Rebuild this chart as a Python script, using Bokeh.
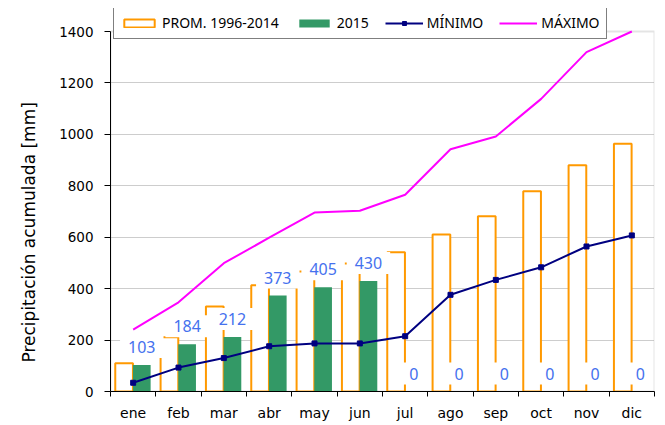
from bokeh.plotting import figure
from bokeh.models import (Range1d, FixedTicker, Legend, LegendItem, ColumnDataSource,
                          BoxAnnotation, Title)
from bokeh.core.properties import value
from bokeh.transform import dodge
from bokeh.embed import file_html
from bokeh.resources import INLINE

months = ["ene", "feb", "mar", "abr", "may", "jun", "jul", "ago", "sep", "oct", "nov", "dic"]
prom_1996_2014 = [110, 211, 331, 413, 467, 498, 542, 611, 682, 779, 880, 963]
values_2015 = [103, 184, 212, 373, 405, 430, 0, 0, 0, 0, 0, 0]
minimo = [34, 93, 130, 176, 187, 187, 215, 376, 434, 483, 564, 607]
maximo = [241, 347, 499, 598, 696, 703, 765, 942, 992, 1138, 1320, 1400]
y_ticks = [0, 200, 400, 600, 800, 1000, 1200, 1400]
Y_MAX = 1400

pos = [i + 0.5 for i in range(len(months))]
bounds = list(range(len(months) + 1))

src = ColumnDataSource(dict(
    x=pos, month=months, prom=prom_1996_2014, v2015=values_2015,
    minimo=minimo, maximo=maximo, lbl=[str(v) for v in values_2015],
))

# plot area is 360px high for 0..1400; the frame is extended 23px above it
# so that the legend (which overlaps the top border) is not clipped
FRAME_H = 383
p = figure(frame_width=544, frame_height=FRAME_H,
           x_range=Range1d(0, len(months)), y_range=Range1d(0, Y_MAX * FRAME_H / 360),
           output_backend="svg", toolbar_location=None,
           min_border_left=110, min_border_top=8, min_border_right=9, min_border_bottom=32)
p.background_fill_color = "white"
p.border_fill_color = "white"
p.outline_line_color = None

# plot-area border (grey, as in the reference)
p.add_layout(BoxAnnotation(left=0, right=len(months), bottom=0, top=Y_MAX,
                           fill_alpha=0, line_color="#a6a6a6", line_width=2, level="underlay"))

p.xgrid.visible = False
p.ygrid.ticker = FixedTicker(ticks=y_ticks[1:-1])
p.ygrid.grid_line_color = "#9a9a9a"
p.ygrid.grid_line_dash = "1 1"
p.ygrid.grid_line_width = 1

# y axis
p.yaxis.ticker = FixedTicker(ticks=y_ticks)
p.yaxis.bounds = (0, Y_MAX)
p.yaxis.major_tick_out = 6
p.yaxis.major_tick_in = 0
p.yaxis.minor_tick_out = 0
p.yaxis.minor_tick_in = 0
p.yaxis.axis_line_color = "black"
p.yaxis.major_tick_line_color = "black"
p.yaxis.major_label_text_font = "DejaVu Sans"
p.yaxis.major_label_text_font_size = "13.5px"
p.yaxis.major_label_text_color = "black"
p.yaxis.major_label_standoff = 11

p.add_layout(Title(text="Precipitación acumulada [mm]", align="left", offset=29,
                   vertical_align="top",
                   text_font="DejaVu Sans", text_font_size="17px",
                   text_font_style="normal", text_color="black", standoff=32), "left")

# x axis: labels at category centres, ticks at boundaries
p.xaxis.ticker = FixedTicker(ticks=pos, minor_ticks=bounds)
p.xaxis.major_label_overrides = {x: m for x, m in zip(pos, months)}
p.xaxis.major_tick_out = 0
p.xaxis.major_tick_in = 0
p.xaxis.minor_tick_out = 5
p.xaxis.minor_tick_in = 0
p.xaxis.minor_tick_line_color = "black"
p.xaxis.axis_line_color = "black"
p.xaxis.major_label_text_font = "DejaVu Sans"
p.xaxis.major_label_text_font_size = "14px"
p.xaxis.major_label_text_color = "black"
p.xaxis.major_label_standoff = 8

r_prom = p.vbar(x=dodge("x", -0.2, range=p.x_range), top="prom", bottom=0, width=0.39,
                source=src, fill_color="white", line_color="#FF9900", line_width=2)
r_2015 = p.vbar(x=dodge("x", 0.19, range=p.x_range), top="v2015", bottom=0, width=0.39,
                source=src, fill_color="#339966", line_color=None)
r_min_l = p.line("x", "minimo", source=src, line_color="#000080", line_width=2)
r_min_m = p.scatter("x", "minimo", source=src, marker="square", size=5,
                    fill_color="#000080", line_color="#000080")
r_max = p.line("x", "maximo", source=src, line_color="#FF00FF", line_width=2)

p.text(x=dodge("x", 0.19, range=p.x_range), y="v2015", text="lbl", source=src,
       text_align="center", text_baseline="middle", y_offset=-18,
       text_font=value("Noto Sans"), text_font_size="16px", text_color="#4571ee",
       background_fill_color="white", padding=dict(left=8, right=8, top=5, bottom=5))

legend = Legend(items=[
    LegendItem(label="PROM. 1996-2014", renderers=[r_prom]),
    LegendItem(label="2015", renderers=[r_2015]),
    LegendItem(label="MÍNIMO", renderers=[r_min_l, r_min_m]),
    LegendItem(label="MÁXIMO", renderers=[r_max]),
], orientation="horizontal", location=(3, 352))
legend.border_line_color = "black"
legend.border_line_width = 1
legend.background_fill_color = "white"
legend.background_fill_alpha = 1
legend.padding = 6
legend.spacing = 16
legend.margin = 0
legend.label_standoff = 4
legend.glyph_width = 38
legend.glyph_height = 10
legend.label_height = 17
legend.label_text_font = "Noto Sans"
legend.label_text_font_size = "14px"
legend.label_text_color = "black"
p.add_layout(legend)

open("out.html", "w").write(file_html(p, INLINE))
